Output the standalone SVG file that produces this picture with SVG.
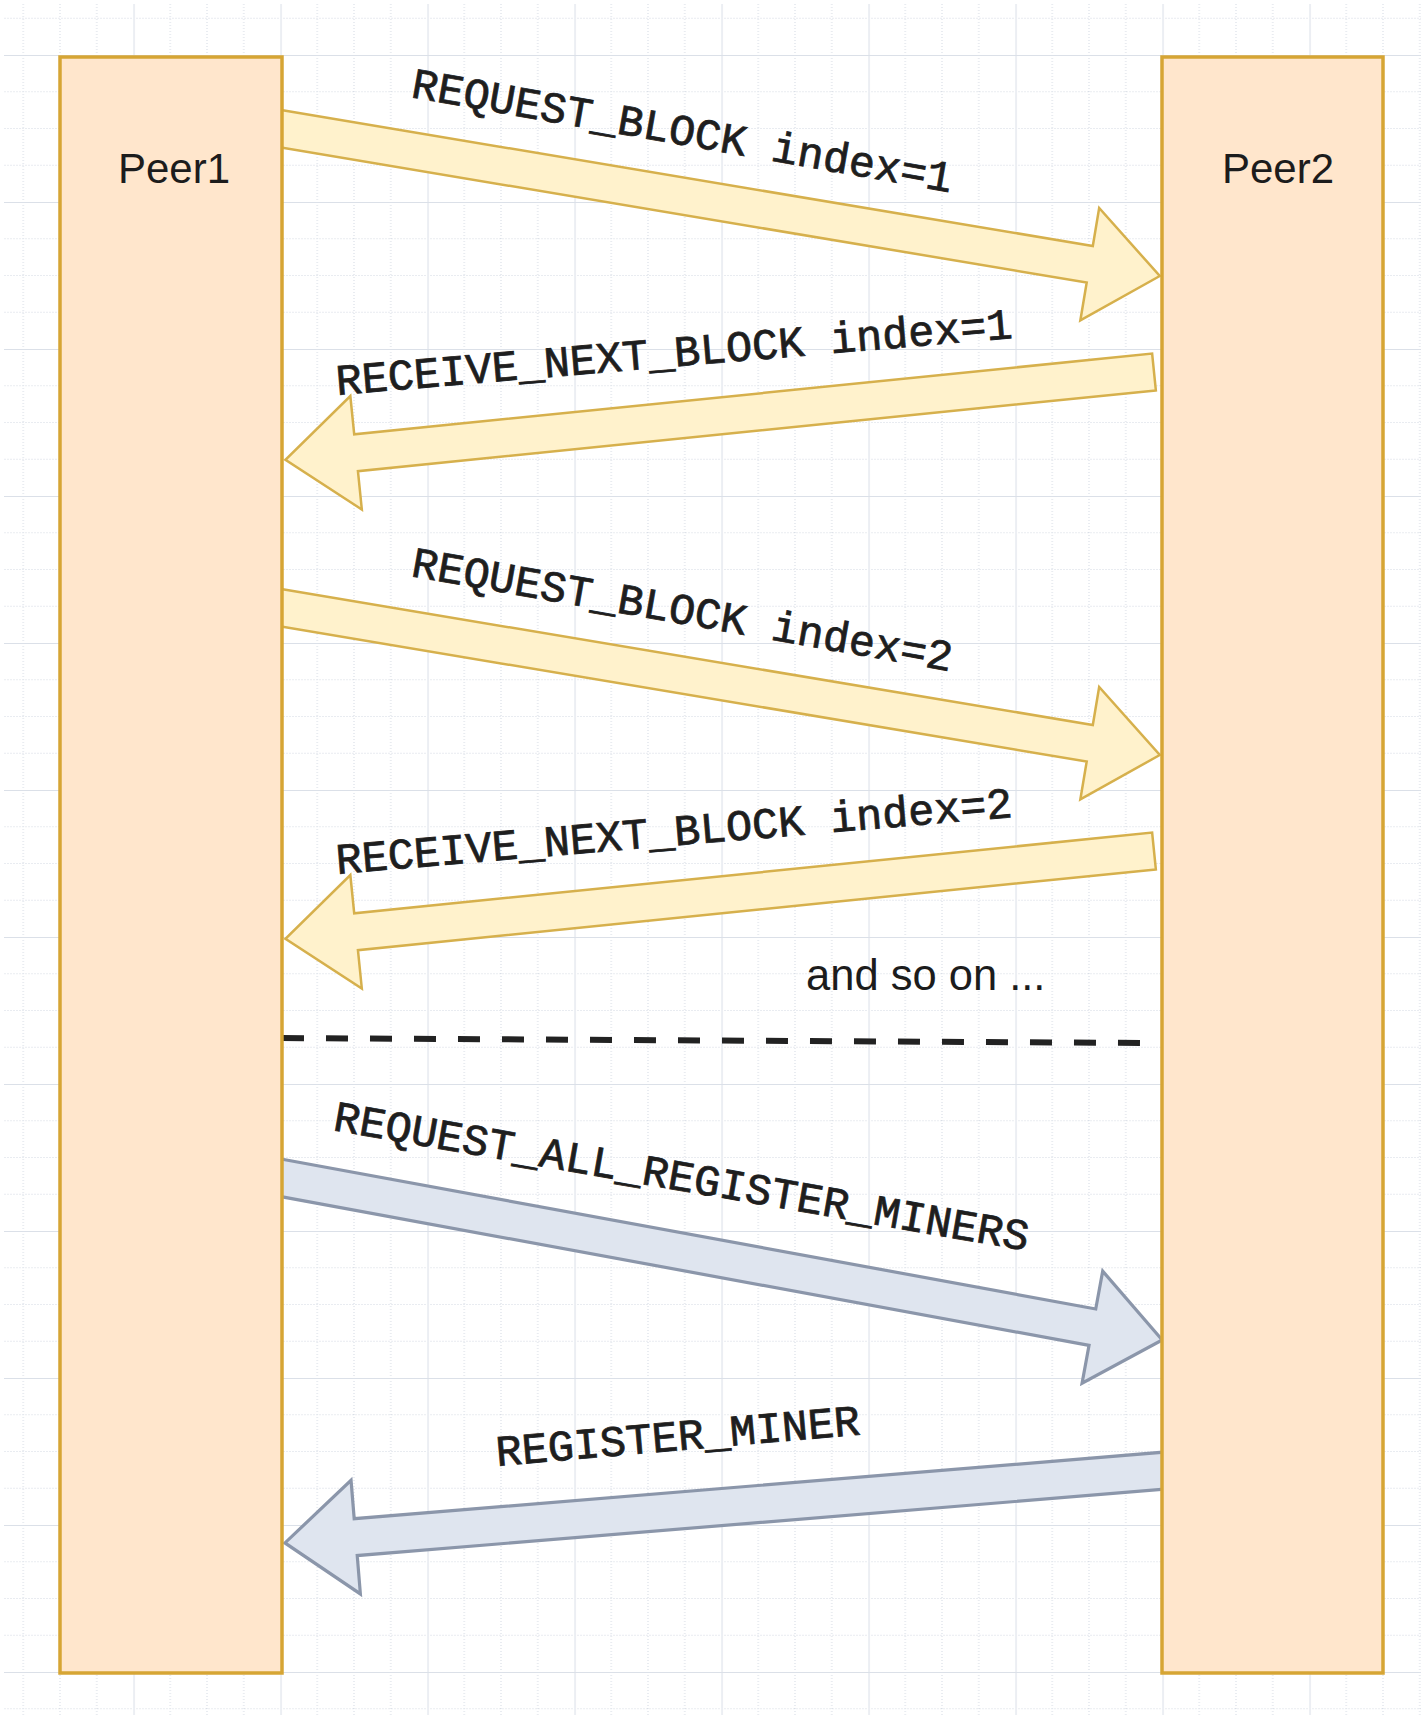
<svg xmlns="http://www.w3.org/2000/svg" width="1425" height="1719" viewBox="0 0 1425 1719">
<style>
.peer{fill:#ffe6cc;stroke:#d6a534;stroke-width:3.5}
.plabel{font-family:"Liberation Sans",Arial,sans-serif;font-size:42px;fill:#1c1c1c;text-anchor:middle}
.ya{fill:#fff2cc;stroke:#d6b04c;stroke-width:2.5;stroke-linejoin:miter}
.ba{fill:#dfe5ef;stroke:#8b96aa;stroke-width:3.2;stroke-linejoin:miter}
.msg{font-family:"Liberation Mono","Courier New",monospace;font-size:43.5px;fill:#1e1e1e;stroke:#1e1e1e;stroke-width:0.8}
.note{font-family:"Liberation Sans",Arial,sans-serif;font-size:43.5px;fill:#1c1c1c}
</style>
<defs>
<pattern id="grid" x="133.5" y="55" width="147" height="147" patternUnits="userSpaceOnUse">
<g stroke="#d3d9e2" stroke-width="1" stroke-dasharray="1 2" fill="none">
<line x1="36.75" y1="0" x2="36.75" y2="147"/>
<line x1="73.5" y1="0" x2="73.5" y2="147"/>
<line x1="110.25" y1="0" x2="110.25" y2="147"/>
<line x1="0" y1="36.75" x2="147" y2="36.75"/>
<line x1="0" y1="73.5" x2="147" y2="73.5"/>
<line x1="0" y1="110.25" x2="147" y2="110.25"/>
</g>
<g stroke="#dbe0e8" stroke-width="2.2" fill="none">
<line x1="0" y1="0" x2="0" y2="147"/>
<line x1="0" y1="0" x2="147" y2="0"/>
</g>
</pattern>
</defs>
<rect x="0" y="0" width="1425" height="1719" fill="#ffffff"/>
<rect x="4" y="4" width="1417" height="1711" fill="url(#grid)"/>

<g id="connectors">
<g id="arrow1" transform="translate(282,129) rotate(9.505)"><path class="ya" d="M-10,-18.5 H819 V-57 L890,0 L819,57 V18.5 H-10 Z"/></g>
<g id="arrow2" transform="translate(1154,372) rotate(174.22)"><path class="ya" d="M0,-18.5 H802 V-57 L873,0 L802,57 V18.5 H0 Z"/></g>
<g id="arrow3" transform="translate(282,608) rotate(9.505)"><path class="ya" d="M-10,-18.5 H819 V-57 L890,0 L819,57 V18.5 H-10 Z"/></g>
<g id="arrow4" transform="translate(1154,851) rotate(174.22)"><path class="ya" d="M0,-18.5 H802 V-57 L873,0 L802,57 V18.5 H0 Z"/></g>
<g id="arrow5" transform="translate(282,1178) rotate(10.43)"><path class="ba" d="M-10,-18.5 H824 V-57 L895,0 L824,57 V18.5 H-10 Z"/></g>
<g id="arrow6" transform="translate(1160,1471) rotate(175.3)"><path class="ba" d="M-6,-18.5 H807 V-57 L878,0 L807,57 V18.5 H-6 Z"/></g>
<line id="separator" x1="282" y1="1038" x2="1140" y2="1043" stroke="#222222" stroke-width="6" stroke-dasharray="22 22"/>
</g>

<g id="peer1"><rect class="peer" x="60" y="57" width="222" height="1616"/><text class="plabel" x="174" y="183">Peer1</text></g>
<g id="peer2"><rect class="peer" x="1162" y="57" width="221" height="1616"/><text class="plabel" x="1278" y="183">Peer2</text></g>

<g id="labels">
<text class="msg" x="410" y="97" transform="rotate(10 410 97)">REQUEST_BLOCK index=1</text>
<text class="msg" x="337" y="395" transform="rotate(-4.82 337 395)">RECEIVE_NEXT_BLOCK index=1</text>
<text class="msg" x="410" y="576" transform="rotate(10 410 576)">REQUEST_BLOCK index=2</text>
<text class="msg" x="337" y="874" transform="rotate(-4.82 337 874)">RECEIVE_NEXT_BLOCK index=2</text>
<text class="msg" x="332" y="1130" transform="rotate(9.87 332 1130)">REQUEST_ALL_REGISTER_MINERS</text>
<text class="msg" x="497" y="1466" transform="rotate(-4.96 497 1466)">REGISTER_MINER</text>
<text class="note" x="806" y="990">and so on ...</text>
</g>
</svg>
